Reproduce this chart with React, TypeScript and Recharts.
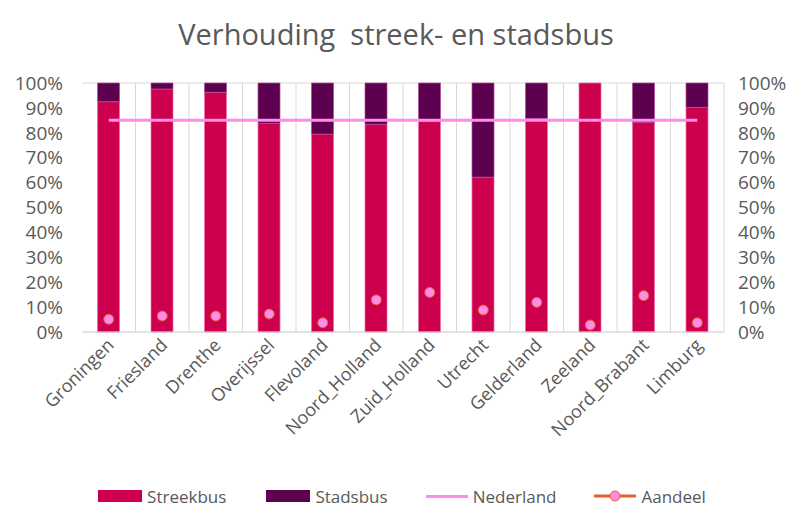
import React from 'react';
import { ComposedChart, Bar, Line, XAxis, YAxis, CartesianGrid, Legend } from 'recharts';

const provincies = [
  'Groningen', 'Friesland', 'Drenthe', 'Overijssel', 'Flevoland', 'Noord_Holland',
  'Zuid_Holland', 'Utrecht', 'Gelderland', 'Zeeland', 'Noord_Brabant', 'Limburg',
];
const streekbus = [92.5, 97.6, 96.3, 83.8, 79.5, 83.4, 84.5, 62.2, 85.8, 100, 84.2, 90.2];
const stadsbus = [7.5, 2.4, 3.7, 16.2, 20.5, 16.6, 15.5, 37.8, 14.2, 0, 15.8, 9.8];
const nederland = [85, 85, 85, 85, 85, 85, 85, 85, 85, 85, 85, 85];
const aandeel = [5.1, 6.4, 6.4, 7.2, 3.7, 12.9, 15.9, 8.8, 11.9, 2.8, 14.6, 3.7];
const yTicks = [0, 10, 20, 30, 40, 50, 60, 70, 80, 90, 100];

const data = provincies.map((naam, i) => ({
  naam,
  streekbus: streekbus[i],
  stadsbus: stadsbus[i],
  nederland: nederland[i],
  aandeel: aandeel[i],
}));

const FONT = "'Open Sans', sans-serif";
const GREY = '#595959';
const C_STREEK = '#cc004c';
const C_STAD = '#5c004f';
const C_NL = '#ff8ce6';
const C_AANDEEL = '#e0602a';

const XTick = (props: any) => {
  const { x, y, payload } = props;
  return (
    <text x={x + 2} y={y + 2} transform={`rotate(-45, ${x + 2}, ${y + 2})`} textAnchor="end"
      fill={GREY} fontSize={18} fontFamily={FONT} dy={6}>
      {payload.value}
    </text>
  );
};

const LegendContent = () => {
  const item = (icon: React.ReactNode, label: string, gap: number) => (
    <div style={{ display: 'flex', alignItems: 'center', marginRight: gap }}>
      {icon}
      <span style={{ marginLeft: 5, color: GREY, fontSize: 17, fontFamily: FONT }}>{label}</span>
    </div>
  );
  return (
    <div style={{ display: 'flex', justifyContent: 'center', alignItems: 'center', paddingLeft: 12, height: 20 }}>
      {item(<div style={{ width: 44, height: 12, background: C_STREEK }} />, 'Streekbus', 40)}
      {item(<div style={{ width: 44, height: 12, background: C_STAD }} />, 'Stadsbus', 38)}
      {item(<div style={{ width: 42, height: 3, background: C_NL }} />, 'Nederland', 38)}
      {item(
        <svg width={42} height={14}>
          <line x1={0} y1={7} x2={42} y2={7} stroke={C_AANDEEL} strokeWidth={3} />
          <circle cx={21} cy={7} r={5} fill={C_NL} stroke={C_AANDEEL} strokeWidth={1} />
        </svg>,
        'Aandeel', 0
      )}
    </div>
  );
};

const gridX = ({ offset }: any) => {
  const band = offset.width / provincies.length;
  return provincies.map((_, i) => offset.left + band * (i + 1));
};

export default function App() {
  return (
    <div style={{ position: 'absolute', left: 0, top: 0, width: 792, height: 506, background: '#fff' }}>
      <div style={{ position: 'absolute', top: 14, width: 792, textAlign: 'center', fontSize: 29, color: GREY, fontFamily: FONT, whiteSpace: 'pre' }}>
        {'Verhouding  streek- en stadsbus'}
      </div>
      <ComposedChart width={792} height={506} data={data} barCategoryGap="29%"
        margin={{ top: 83, right: 0, bottom: 0, left: 0 }}>
        <CartesianGrid stroke="#d9d9d9" verticalCoordinatesGenerator={gridX} />
        <XAxis dataKey="naam" interval={0} height={154} tick={<XTick />} tickLine={false}
          axisLine={{ stroke: '#d9d9d9' }} />
        <YAxis yAxisId="left" orientation="left" width={82} domain={[0, 100]} ticks={yTicks} interval={0}
          tickFormatter={(v: number) => `${v}%`} axisLine={false} tickLine={false}
          tick={{ fill: GREY, fontSize: 19, fontFamily: FONT, dx: -11 }} />
        <YAxis yAxisId="right" orientation="right" width={68} domain={[0, 100]} ticks={yTicks} interval={0}
          tickFormatter={(v: number) => `${v}%`} axisLine={false} tickLine={false}
          tick={{ fill: GREY, fontSize: 19, fontFamily: FONT, dx: 6 }} />
        <Bar yAxisId="left" dataKey="streekbus" stackId="a" fill={C_STREEK} stroke="#f06aa8" strokeWidth={0.7} isAnimationActive={false} />
        <Bar yAxisId="left" dataKey="stadsbus" stackId="a" fill={C_STAD} stroke="#b04a98" strokeWidth={0.7} isAnimationActive={false} />
        <Line yAxisId="right" dataKey="nederland" stroke={C_NL} strokeWidth={3} dot={false} isAnimationActive={false} />
        <Line yAxisId="right" dataKey="aandeel" stroke="none" strokeWidth={0}
          dot={{ r: 5, fill: C_NL, stroke: C_AANDEEL, strokeWidth: 1 }} activeDot={false} isAnimationActive={false} />
        <Legend verticalAlign="bottom" height={30} wrapperStyle={{ height: 20, bottom: 0 }} content={<LegendContent />} />
      </ComposedChart>
    </div>
  );
}
